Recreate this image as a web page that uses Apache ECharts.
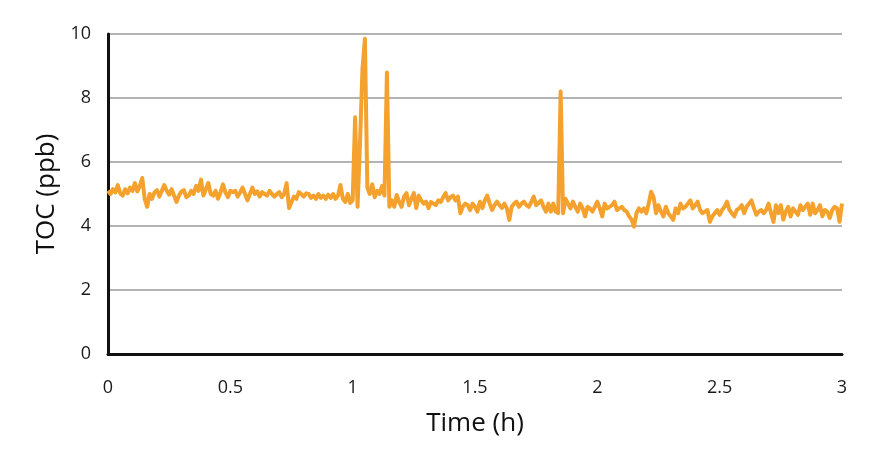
<!DOCTYPE html>
<html>
<head>
<meta charset="utf-8">
<script src="https://cdn.jsdelivr.net/npm/echarts@6/dist/echarts.min.js"></script>
<style>
html,body{margin:0;padding:0;background:#fff;}
#chart{width:884px;height:455px;}
</style>
</head>
<body>
<div id="chart"></div>
<script>
// Sampling interval of the TOC record (hours)
var STEP_H = 0.01;
// TOC readings (ppb), one per sample from t = 0 h to t = 3 h
var tocPpb = [
5.1,5.0,5.15,5.05,5.28,5.02,4.95,5.15,5.02,5.2,
5.1,5.34,5.08,5.25,5.5,4.85,4.6,5.0,4.85,5.05,
5.12,4.92,5.1,5.28,5.1,4.98,5.15,4.95,4.75,4.95,
5.08,5.12,4.9,4.95,5.1,5.0,5.25,5.1,5.45,4.95,
5.15,5.34,5.0,4.95,5.1,4.85,5.05,5.3,5.05,4.9,
5.1,5.06,5.1,4.92,5.05,5.2,5.0,4.8,5.0,5.2,
5.0,5.08,4.92,5.06,5.0,4.95,5.1,5.0,4.92,5.0,
5.06,4.9,5.0,5.34,4.56,4.75,4.92,4.85,5.06,5.0,
4.92,5.02,5.0,4.88,4.95,4.85,5.0,4.88,4.95,4.85,
4.98,4.88,5.0,4.85,4.95,5.28,4.85,4.75,5.0,4.72,
4.8,7.4,4.6,6.6,8.9,9.85,5.2,5.0,5.3,4.9,
5.1,5.0,5.25,4.95,8.8,4.6,4.8,4.6,4.97,4.75,
4.6,4.92,5.03,4.65,4.85,5.03,4.56,4.95,4.8,4.7,
4.76,4.56,4.75,4.7,4.65,4.8,4.75,4.9,5.03,4.8,
4.9,4.95,4.8,4.92,4.4,4.6,4.7,4.65,4.5,4.7,
4.6,4.45,4.76,4.56,4.8,4.95,4.7,4.5,4.65,4.76,
4.65,4.56,4.7,4.55,4.19,4.6,4.7,4.76,4.6,4.7,
4.76,4.65,4.6,4.75,4.92,4.65,4.72,4.8,4.6,4.45,
4.7,4.45,4.7,4.45,4.4,8.2,4.4,4.85,4.7,4.55,
4.76,4.6,4.45,4.7,4.55,4.3,4.6,4.55,4.45,4.6,
4.76,4.55,4.3,4.7,4.55,4.6,4.65,4.76,4.5,4.55,
4.6,4.5,4.45,4.3,4.2,3.98,4.4,4.55,4.45,4.55,
4.4,4.7,5.07,4.9,4.4,4.65,4.45,4.3,4.6,4.4,
4.3,4.19,4.55,4.4,4.7,4.55,4.6,4.7,4.8,4.55,
4.65,4.76,4.5,4.4,4.45,4.5,4.13,4.3,4.4,4.5,
4.35,4.5,4.6,4.76,4.5,4.4,4.3,4.5,4.55,4.65,
4.4,4.6,4.7,4.8,4.55,4.35,4.45,4.5,4.4,4.5,
4.7,4.4,4.13,4.65,4.4,4.65,4.2,4.45,4.6,4.3,
4.55,4.45,4.35,4.65,4.5,4.6,4.7,4.35,4.7,4.4,
4.5,4.65,4.3,4.5,4.45,4.25,4.5,4.6,4.55,4.13,
4.7
];
// Axis ticks
var xTicks = [0, 0.5, 1, 1.5, 2, 2.5, 3];
var yTicks = [0, 2, 4, 6, 8, 10];
var xLabel = 'Time (h)';
var yLabel = 'TOC (ppb)';

var seriesData = tocPpb.map(function (v, i) {
  return [Math.round(i * STEP_H * 1000) / 1000, v];
});

var FONT = 'Open Sans';
var chart = echarts.init(document.getElementById('chart'), null, {renderer: 'canvas'});
chart.setOption({
  animation: false,
  backgroundColor: '#ffffff',
  grid: {left: 108, right: 42, top: 34, bottom: 101, containLabel: false},
  xAxis: {
    type: 'value',
    min: xTicks[0], max: xTicks[xTicks.length - 1], interval: 0.5,
    name: xLabel, nameLocation: 'middle', nameGap: 57,
    nameTextStyle: {fontFamily: FONT, fontSize: 26, color: '#111'},
    axisLine: {show: true, onZero: false, lineStyle: {color: '#111', width: 3}},
    axisTick: {show: false},
    splitLine: {show: false},
    axisLabel: {
      margin: 25, fontFamily: FONT, fontSize: 18, color: '#1a1a1a',
      formatter: function (v) { return xTicks.indexOf(v) >= 0 ? String(v) : ''; }
    }
  },
  yAxis: {
    type: 'value',
    min: yTicks[0], max: yTicks[yTicks.length - 1], interval: 2,
    name: yLabel, nameLocation: 'middle', nameGap: 47,
    nameTextStyle: {fontFamily: FONT, fontSize: 26, color: '#111'},
    axisLine: {show: true, lineStyle: {color: '#111', width: 3}},
    axisTick: {show: false},
    splitLine: {show: true, lineStyle: {color: '#9a9a9a', width: 1.5}},
    axisLabel: {margin: 17, fontFamily: FONT, fontSize: 18, color: '#1a1a1a'}
  },
  series: [{
    type: 'line',
    data: seriesData,
    showSymbol: false,
    symbol: 'none',
    lineStyle: {color: '#F5A12D', width: 4, join: 'round'},
    z: 3
  }]
});
</script>
</body>
</html>
